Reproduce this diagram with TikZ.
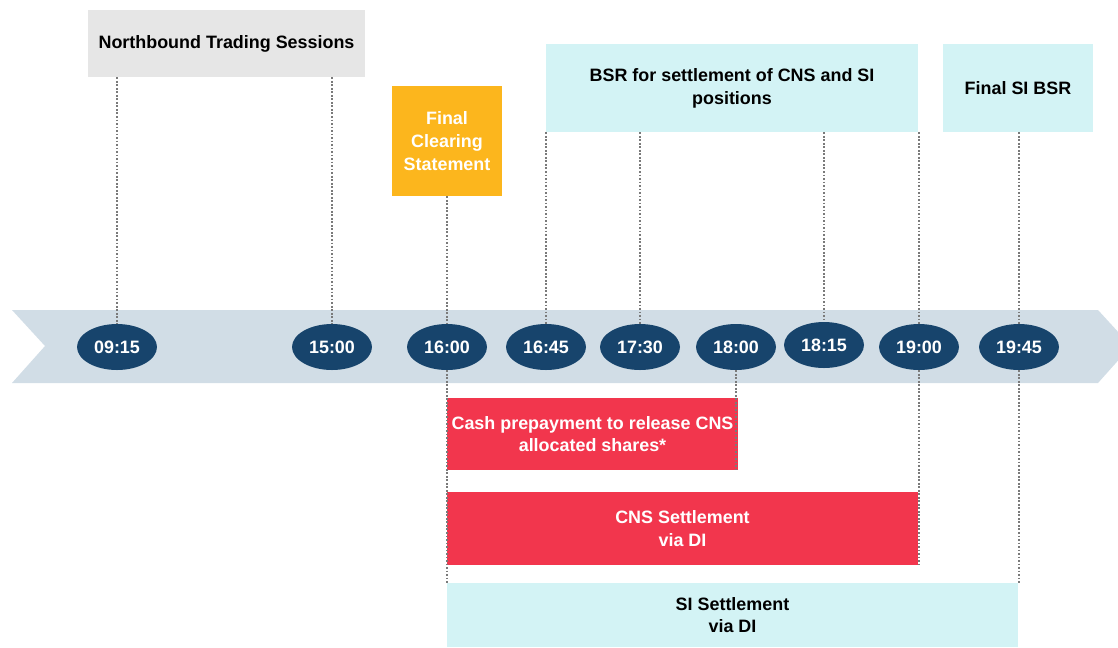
\documentclass[tikz,border=0pt]{standalone}
\usepackage{fontspec}
\setmainfont{Liberation Sans}
\usepackage{xcolor}
\usepackage{tikz}
\usetikzlibrary{shapes.geometric}

\definecolor{bandblue}{HTML}{D1DDE6}
\definecolor{navy}{HTML}{17446C}
\definecolor{boxgray}{HTML}{E6E6E6}
\definecolor{boxcyan}{HTML}{D3F3F5}
\definecolor{boxorange}{HTML}{FCB61D}
\definecolor{boxred}{HTML}{F2364D}
\definecolor{tickgray}{HTML}{7A7A7A}

\begin{document}
\begin{tikzpicture}[x=0.02cm,y=-0.02cm,
    font=\fontsize{10.2}{13}\selectfont\bfseries,
    time node/.style={ellipse,fill=navy,text=white,minimum width=1.6cm,minimum height=0.92cm,inner sep=0pt},
    box node/.style={rectangle,inner sep=2pt,align=center},
    tick/.style={draw=tickgray,line width=1pt,dash pattern=on 1pt off 1pt}]
  \useasboundingbox (0,0) rectangle (1118,647);

  % band
  \fill[bandblue] (12,310) -- (1098,310) -- (1131,346) -- (1098,383) -- (12,383) -- (45,346) -- cycle;

  % phases
  \node[box node,fill=boxgray,minimum width=5.54cm,minimum height=1.34cm] (nts) at (226.5,43.5) {Northbound Trading Sessions};
  \node[box node,fill=boxorange,text=white,minimum width=2.2cm,minimum height=2.2cm] (fcs) at (447,141) {Final\\Clearing\\Statement};
  \node[box node,fill=boxcyan,minimum width=7.44cm,minimum height=1.76cm] (bsr) at (732,88) {BSR for settlement of CNS and SI\\positions};
  \node[box node,fill=boxcyan,minimum width=3.0cm,minimum height=1.76cm] (fsb) at (1018,88) {Final SI BSR};

  \node[box node,fill=boxred,text=white,minimum width=5.82cm,minimum height=1.44cm] (cash) at (592.5,434) {Cash prepayment to release CNS\\allocated shares*};
  \node[box node,fill=boxred,text=white,minimum width=9.42cm,minimum height=1.46cm] (cns) at (682.5,528.5) {CNS Settlement\\via DI};
  \node[box node,fill=boxcyan,minimum width=11.42cm,minimum height=1.28cm] (si) at (732.5,615) {SI Settlement\\via DI};

  % times
  \node[time node] (t0915) at (117,347) {09:15};
  \node[time node] (t1500) at (332,347) {15:00};
  \node[time node] (t1600) at (447,347) {16:00};
  \node[time node] (t1645) at (546,347) {16:45};
  \node[time node] (t1730) at (640,347) {17:30};
  \node[time node] (t1800) at (736,347) {18:00};
  \node[time node] (t1815) at (824,345) {18:15};
  \node[time node] (t1900) at (919,347) {19:00};
  \node[time node] (t1945) at (1019,347) {19:45};

  % ticks
  \draw[tick] (nts.south -| t0915) -- (t0915.north);
  \draw[tick] (nts.south -| t1500) -- (t1500.north);
  \draw[tick] (fcs.south) -- (t1600.north);
  \draw[tick] (bsr.south -| t1645) -- (t1645.north);
  \draw[tick] (bsr.south -| t1730) -- (t1730.north);
  \draw[tick] (bsr.south -| t1815) -- (t1815.north);
  \draw[tick] (bsr.south -| t1900) -- (t1900.north);
  \draw[tick] (fsb.south -| t1945) -- (t1945.north);
  \draw[tick] (t1600.south) -- (t1600 |- si.north);
  \draw[tick] (t1800.south) -- (t1800 |- cash.south);
  \draw[tick] (t1900.south) -- (t1900 |- cns.south);
  \draw[tick] (t1945.south) -- (t1945 |- si.north);
\end{tikzpicture}
\end{document}
